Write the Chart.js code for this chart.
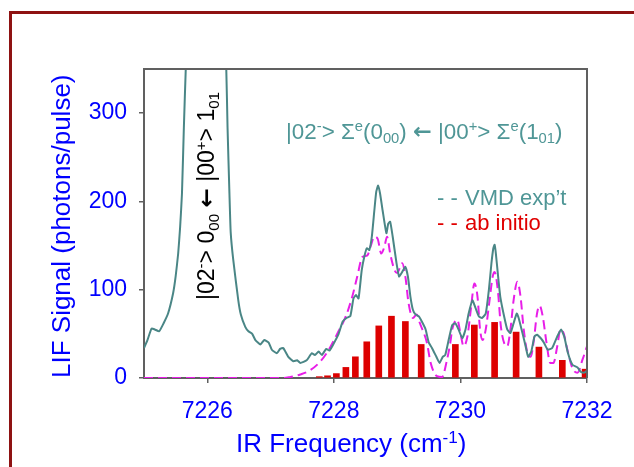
<!DOCTYPE html>
<html>
<head>
<meta charset="utf-8">
<script src="https://cdn.jsdelivr.net/npm/chart.js@4.4.0/dist/chart.umd.min.js"></script>
<style>
  html, body { margin: 0; padding: 0; background: #fff; }
  #wrap { position: relative; width: 634px; height: 467px; overflow: hidden; }
  #frame { position: absolute; left: 9px; top: 11px; width: 700px; height: 600px;
           border-left: 3px solid #8e1212; border-top: 3px solid #8e1212; }
  canvas { position: absolute; left: 0; top: 0; }
</style>
</head>
<body>
<div id="wrap"><div id="frame"></div><canvas id="lif" width="634" height="467"></canvas></div>
<script>
const xTicks = [7226, 7228, 7230, 7232];
const yTicks = [0, 100, 200, 300];

// measured LIF trace
const expFreq = [7225.00, 7225.05, 7225.12, 7225.17, 7225.24, 7225.31, 7225.38, 7225.46, 7225.50, 7225.54,
  7225.57, 7225.60, 7225.63, 7225.66, 7225.72, 7225.82, 7225.93, 7226.03, 7226.14, 7226.24,
  7226.30, 7226.32, 7226.35, 7226.37, 7226.41, 7226.49, 7226.53, 7226.60, 7226.65, 7226.71,
  7226.76, 7226.84, 7226.90, 7226.97, 7227.02, 7227.10, 7227.15, 7227.20, 7227.28, 7227.36,
  7227.42, 7227.47, 7227.57, 7227.65, 7227.70, 7227.76, 7227.81, 7227.88, 7227.93, 7227.99,
  7228.07, 7228.14, 7228.20, 7228.26, 7228.31, 7228.35, 7228.39, 7228.44, 7228.48, 7228.52,
  7228.56, 7228.60, 7228.64, 7228.67, 7228.70, 7228.73, 7228.77, 7228.83, 7228.86, 7228.89,
  7228.93, 7228.99, 7229.03, 7229.07, 7229.13, 7229.17, 7229.21, 7229.25, 7229.29, 7229.34,
  7229.39, 7229.45, 7229.50, 7229.55, 7229.62, 7229.67, 7229.72, 7229.76, 7229.82, 7229.87,
  7229.92, 7229.97, 7230.03, 7230.08, 7230.13, 7230.19, 7230.24, 7230.29, 7230.34, 7230.40,
  7230.45, 7230.49, 7230.52, 7230.54, 7230.56, 7230.59, 7230.63, 7230.69, 7230.74, 7230.79,
  7230.84, 7230.89, 7230.92, 7230.98, 7231.03, 7231.07, 7231.12, 7231.17, 7231.21, 7231.27,
  7231.32, 7231.38, 7231.45, 7231.53, 7231.59, 7231.64, 7231.70, 7231.77, 7231.85, 7231.90,
  7231.94, 7231.98, 7232.00];
const expSignal = [34, 42, 56, 55, 53, 62, 73, 96, 115, 141,
  170, 209, 284, 350, 450, 570, 620, 610, 540, 440,
  350, 284, 209, 165, 134, 88, 72, 58, 53, 50,
  43, 38, 43, 40, 32, 28, 33, 34, 24, 19,
  20, 17, 20, 28, 26, 30, 26, 33, 31, 38,
  49, 64, 68, 70, 90, 94, 90, 122, 137, 147,
  145, 160, 190, 211, 218, 209, 190, 164, 175, 177,
  160, 130, 115, 119, 126, 115, 92, 77, 72, 70,
  64, 55, 40, 34, 24, 17, 24, 26, 45, 60,
  62, 55, 45, 55, 73, 88, 79, 70, 68, 73,
  100, 130, 147, 151, 141, 119, 92, 70, 55, 51,
  62, 73, 68, 51, 36, 24, 30, 47, 49, 45,
  40, 32, 34, 47, 55, 47, 28, 15, 12, 7,
  6, 7, 9];

// convolved ab initio spectrum
const simFreq = [7225.00, 7227.20, 7227.30, 7227.47, 7227.63, 7227.79, 7227.92, 7228.06, 7228.19, 7228.29,
  7228.37, 7228.45, 7228.53, 7228.58, 7228.64, 7228.69, 7228.75, 7228.80, 7228.84, 7228.89,
  7228.96, 7229.00, 7229.08, 7229.13, 7229.18, 7229.25, 7229.31, 7229.36, 7229.47, 7229.53,
  7229.63, 7229.71, 7229.78, 7229.84, 7229.87, 7229.95, 7230.00, 7230.05, 7230.11, 7230.17,
  7230.22, 7230.27, 7230.31, 7230.35, 7230.40, 7230.46, 7230.51, 7230.54, 7230.59, 7230.64,
  7230.70, 7230.74, 7230.79, 7230.84, 7230.90, 7230.95, 7231.00, 7231.07, 7231.11, 7231.16,
  7231.21, 7231.25, 7231.30, 7231.36, 7231.42, 7231.47, 7231.53, 7231.58, 7231.63, 7231.69,
  7231.77, 7231.85, 7231.93, 7232.00];
const simSignal = [0, 0, 1, 4, 9, 19, 32, 51, 70, 92,
  115, 137, 139, 149, 160, 158, 141, 149, 160, 141,
  122, 119, 130, 115, 85, 68, 72, 62, 40, 17,
  2, 1, 18, 40, 55, 66, 51, 36, 47, 81,
  107, 92, 55, 43, 55, 88, 115, 120, 100, 58,
  38, 36, 55, 88, 109, 92, 55, 26, 24, 43,
  73, 82, 70, 40, 17, 17, 36, 55, 51, 32,
  11, 6, 21, 36];

// ab initio line positions and intensities
const lineFreq = [7227.77, 7227.90, 7228.04, 7228.19, 7228.34, 7228.52, 7228.71, 7228.91, 7229.13, 7229.38,
  7229.92, 7230.22, 7230.54, 7230.88, 7231.24, 7231.61, 7231.97];
const lineInt = [1.5, 2.5, 5, 12, 24, 41, 59, 70, 64, 38,
  38, 60, 63, 52, 35, 20, 10];

const FONT = '"Liberation Sans", Arial, sans-serif';
const ARROW_FONT = '"DejaVu Sans", sans-serif';
const TEAL = '#4a8686';
const TEAL_TEXT = '#4f9696';
const BLUE = '#0000ff';
const AXIS = '#606060';

const toXY = (xs, ys) => xs.map((x, i) => ({ x, y: ys[i] }));

// draws a run of text pieces, some raised or lowered, optionally rotated
function richText(ctx, parts, x, y, size, color, angle) {
  ctx.save();
  ctx.translate(x, y);
  if (angle) ctx.rotate(angle);
  ctx.fillStyle = color;
  ctx.textAlign = 'left';
  ctx.textBaseline = 'alphabetic';
  let cx = 0;
  for (const p of parts) {
    const small = p.sup || p.sub;
    const s = small ? size * 0.66 : size;
    const dy = p.sup ? -size * 0.36 : p.sub ? size * 0.2 : 0;
    ctx.font = p.arrow ? `bold ${s}px ${ARROW_FONT}` : `${s}px ${FONT}`;
    ctx.fillText(p.t, cx, dy);
    cx += ctx.measureText(p.t).width;
  }
  ctx.restore();
}

const labels = {
  id: 'labels',
  afterDraw(chart) {
    const ctx = chart.ctx;
    const a = chart.chartArea;

    // top and right edges of the plot box
    ctx.save();
    ctx.strokeStyle = AXIS;
    ctx.lineWidth = 2;
    ctx.beginPath();
    ctx.moveTo(a.left, a.top);
    ctx.lineTo(a.right, a.top);
    ctx.lineTo(a.right, a.bottom);
    ctx.stroke();
    ctx.restore();

    // axis titles
    richText(ctx, [{ t: 'IR Frequency (cm' }, { t: '-1', sup: 1 }, { t: ')' }], 236, 452, 26, BLUE);
    richText(ctx, [{ t: 'LIF Signal (photons/pulse)' }], 70, 378, 26, BLUE, -Math.PI / 2);

    // band labels
    richText(ctx, [
      { t: '|02' }, { t: '-', sup: 1 }, { t: '> Σ' }, { t: 'e', sup: 1 }, { t: '(0' }, { t: '00', sub: 1 },
      { t: ') ' }, { t: '←', arrow: 1 }, { t: ' |00' }, { t: '+', sup: 1 }, { t: '> Σ' }, { t: 'e', sup: 1 },
      { t: '(1' }, { t: '01', sub: 1 }, { t: ')' }
    ], 286, 139, 22.4, TEAL_TEXT);

    richText(ctx, [
      { t: '|02' }, { t: '-', sup: 1 }, { t: '> 0' }, { t: '00', sub: 1 }, { t: ' ' },
      { t: '←', arrow: 1 }, { t: ' |00' }, { t: '+', sup: 1 }, { t: '> 1' }, { t: '01', sub: 1 }
    ], 214, 300, 23, '#000', -Math.PI / 2);

    // legend text
    ctx.save();
    ctx.font = `22px ${FONT}`;
    ctx.textBaseline = 'alphabetic';
    ctx.fillStyle = TEAL_TEXT;
    ctx.fillText('- -', 437, 205);
    ctx.fillText('VMD exp\u2019t', 465, 205);
    ctx.fillStyle = '#e00000';
    ctx.fillText('- -', 437, 230);
    ctx.fillText('ab initio', 465, 230);
    ctx.restore();
  }
};

new Chart(document.getElementById('lif'), {
  type: 'line',
  data: {
    datasets: [
      {
        type: 'line',
        label: "VMD exp't",
        data: toXY(expFreq, expSignal),
        borderColor: TEAL,
        borderWidth: 2,
        pointRadius: 0,
        tension: 0.15,
        order: 1
      },
      {
        type: 'line',
        label: 'convolved',
        data: toXY(simFreq, simSignal),
        borderColor: '#e81ee8',
        borderWidth: 2,
        borderDash: [9, 5],
        pointRadius: 0,
        cubicInterpolationMode: 'monotone',
        order: 2
      },
      {
        type: 'bar',
        label: 'ab initio',
        data: toXY(lineFreq, lineInt),
        backgroundColor: '#dd0000',
        barThickness: 6,
        order: 3
      }
    ]
  },
  options: {
    responsive: false,
    animation: false,
    devicePixelRatio: 1,
    layout: { padding: { top: 69, right: 47, left: 0, bottom: 0 } },
    plugins: { legend: { display: false }, tooltip: { enabled: false } },
    scales: {
      x: {
        type: 'linear',
        min: 7225,
        max: 7232,
        offset: false,
        afterBuildTicks: s => { s.ticks = xTicks.map(v => ({ value: v })); },
        afterFit: s => { s.height = 89; },
        ticks: {
          color: BLUE, font: { family: FONT, size: 23 }, padding: 15, maxRotation: 0, autoSkip: false,
          callback: v => String(v)
        },
        grid: { offset: false, drawOnChartArea: false, tickLength: 5, color: AXIS, lineWidth: 1.5 },
        border: { color: AXIS, width: 2 }
      },
      y: {
        type: 'linear',
        min: 0,
        max: 350,
        afterBuildTicks: s => { s.ticks = yTicks.map(v => ({ value: v })); },
        afterFit: s => { s.width = 144; },
        ticks: { color: BLUE, font: { family: FONT, size: 23 }, padding: 12, callback: v => String(v) },
        grid: { drawOnChartArea: false, tickLength: 5, color: AXIS, lineWidth: 1.5 },
        border: { color: AXIS, width: 2 }
      }
    }
  },
  plugins: [labels]
});
</script>
</body>
</html>
